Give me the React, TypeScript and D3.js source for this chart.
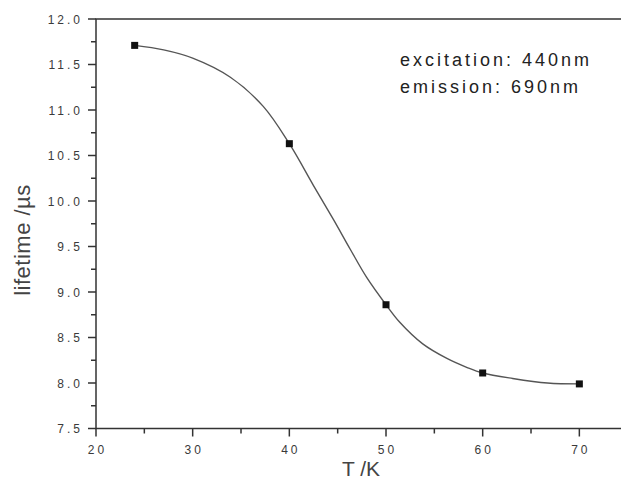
import React, { useEffect, useRef } from 'react'
import * as d3 from 'd3'

// measured points
const temperature = [24, 40, 50, 60, 70]
const lifetime = [11.71, 10.63, 8.86, 8.11, 7.99]

// fitted curve
const fitT = [24, 27, 30, 33.9, 37.3, 40, 42.5, 44.6, 46.3, 48, 50, 51.4, 53.8, 56.3, 58.4, 60, 63.1, 66.7, 70]
const fitLifetime = [11.71, 11.66, 11.57, 11.36, 11.04, 10.63, 10.17, 9.79, 9.47, 9.16, 8.86, 8.67, 8.43, 8.27, 8.17, 8.11, 8.05, 8.0, 7.99]

const xMajor = [20, 30, 40, 50, 60, 70]
const xMinor = [25, 35, 45, 55, 65]
const yMajor = [7.5, 8.0, 8.5, 9.0, 9.5, 10.0, 10.5, 11.0, 11.5, 12.0]
const yMinor = [7.75, 8.25, 8.75, 9.25, 9.75, 10.25, 10.75, 11.25, 11.75]

const annotation = ['excitation: 440nm', 'emission: 690nm']

const W = 621
const H = 482

const drawChart = (el: SVGSVGElement) => {
    const svg = d3.select(el)
    svg.selectAll('*').remove()

    const margin = { left: 96, top: 19 }
    // x range runs past the right edge: the figure is cropped there
    const x = d3.scaleLinear().domain([20, 80]).range([margin.left, margin.left + 60 * 9.667])
    const y = d3.scaleLinear().domain([7.5, 12.0]).range([428.5, margin.top])

    const axisColor = '#333'
    const textColor = '#3a3a3a'
    const font = '"Liberation Sans", Arial, sans-serif'

    // frame
    svg.append('rect')
        .attr('x', x(20))
        .attr('y', y(12))
        .attr('width', x(80) - x(20))
        .attr('height', y(7.5) - y(12))
        .attr('fill', 'none')
        .attr('stroke', axisColor)
        .attr('stroke-width', 1.5)

    // y ticks
    const yt = svg.append('g')
    yt.selectAll('.ymaj').data(yMajor).enter().append('line')
        .attr('x1', x(20) - 8).attr('x2', x(20))
        .attr('y1', d => y(d)).attr('y2', d => y(d))
        .attr('stroke', axisColor).attr('stroke-width', 1.5)
    yt.selectAll('.ymin').data(yMinor).enter().append('line')
        .attr('x1', x(20) - 5).attr('x2', x(20))
        .attr('y1', d => y(d)).attr('y2', d => y(d))
        .attr('stroke', axisColor).attr('stroke-width', 1.5)
    yt.selectAll('text').data(yMajor).enter().append('text')
        .attr('x', 83)
        .attr('y', d => y(d) + 4.5)
        .attr('text-anchor', 'end')
        .attr('font-family', font)
        .attr('font-size', 12)
        .attr('letter-spacing', 3)
        .attr('fill', textColor)
        .text(d => d.toFixed(1))

    // x ticks
    const xt = svg.append('g')
    xt.selectAll('.xmaj').data(xMajor).enter().append('line')
        .attr('x1', d => x(d)).attr('x2', d => x(d))
        .attr('y1', y(7.5)).attr('y2', y(7.5) + 8)
        .attr('stroke', axisColor).attr('stroke-width', 1.5)
    xt.selectAll('.xmin').data(xMinor).enter().append('line')
        .attr('x1', d => x(d)).attr('x2', d => x(d))
        .attr('y1', y(7.5)).attr('y2', y(7.5) + 5)
        .attr('stroke', axisColor).attr('stroke-width', 1.5)
    xt.selectAll('text').data(xMajor).enter().append('text')
        .attr('x', d => x(d) + 1.5)
        .attr('y', 454)
        .attr('text-anchor', 'middle')
        .attr('font-family', font)
        .attr('font-size', 12)
        .attr('letter-spacing', 3)
        .attr('fill', textColor)
        .text(d => d)

    // axis titles
    svg.append('text')
        .attr('transform', `translate(30, 240) rotate(-90)`)
        .attr('text-anchor', 'middle')
        .attr('font-family', font)
        .attr('font-size', 22)
        .attr('letter-spacing', 0.5)
        .attr('fill', '#444')
        .text('lifetime /µs')
    svg.append('text')
        .attr('x', 361)
        .attr('y', 476)
        .attr('text-anchor', 'middle')
        .attr('font-family', font)
        .attr('font-size', 21)
        .attr('fill', '#444')
        .text('T /K')

    // fitted curve
    const line = d3.line<number>()
        .x((d, i) => x(fitT[i]))
        .y(d => y(d))
        .curve(d3.curveCatmullRom.alpha(0.5))
    svg.append('path')
        .datum(fitLifetime)
        .attr('d', line)
        .attr('fill', 'none')
        .attr('stroke', '#555')
        .attr('stroke-width', 1.4)

    // markers
    svg.append('g').selectAll('rect').data(lifetime).enter().append('rect')
        .attr('x', (d, i) => x(temperature[i]) - 3.5)
        .attr('y', d => y(d) - 3.5)
        .attr('width', 7)
        .attr('height', 7)
        .attr('fill', '#111')

    // annotation
    svg.append('g').selectAll('text').data(annotation).enter().append('text')
        .attr('x', 400)
        .attr('y', (d, i) => 66 + i * 27)
        .attr('font-family', font)
        .attr('font-size', 18)
        .attr('letter-spacing', 3)
        .attr('fill', '#222')
        .text(d => d)
}

export default function App() {
    const ref = useRef<SVGSVGElement>(null)
    useEffect(() => {
        if (ref.current) drawChart(ref.current)
    }, [])
    return (
        <svg
            ref={ref}
            width={W}
            height={H}
            style={{ position: 'absolute', left: 0, top: 0, background: '#fff' }}
        />
    )
}
